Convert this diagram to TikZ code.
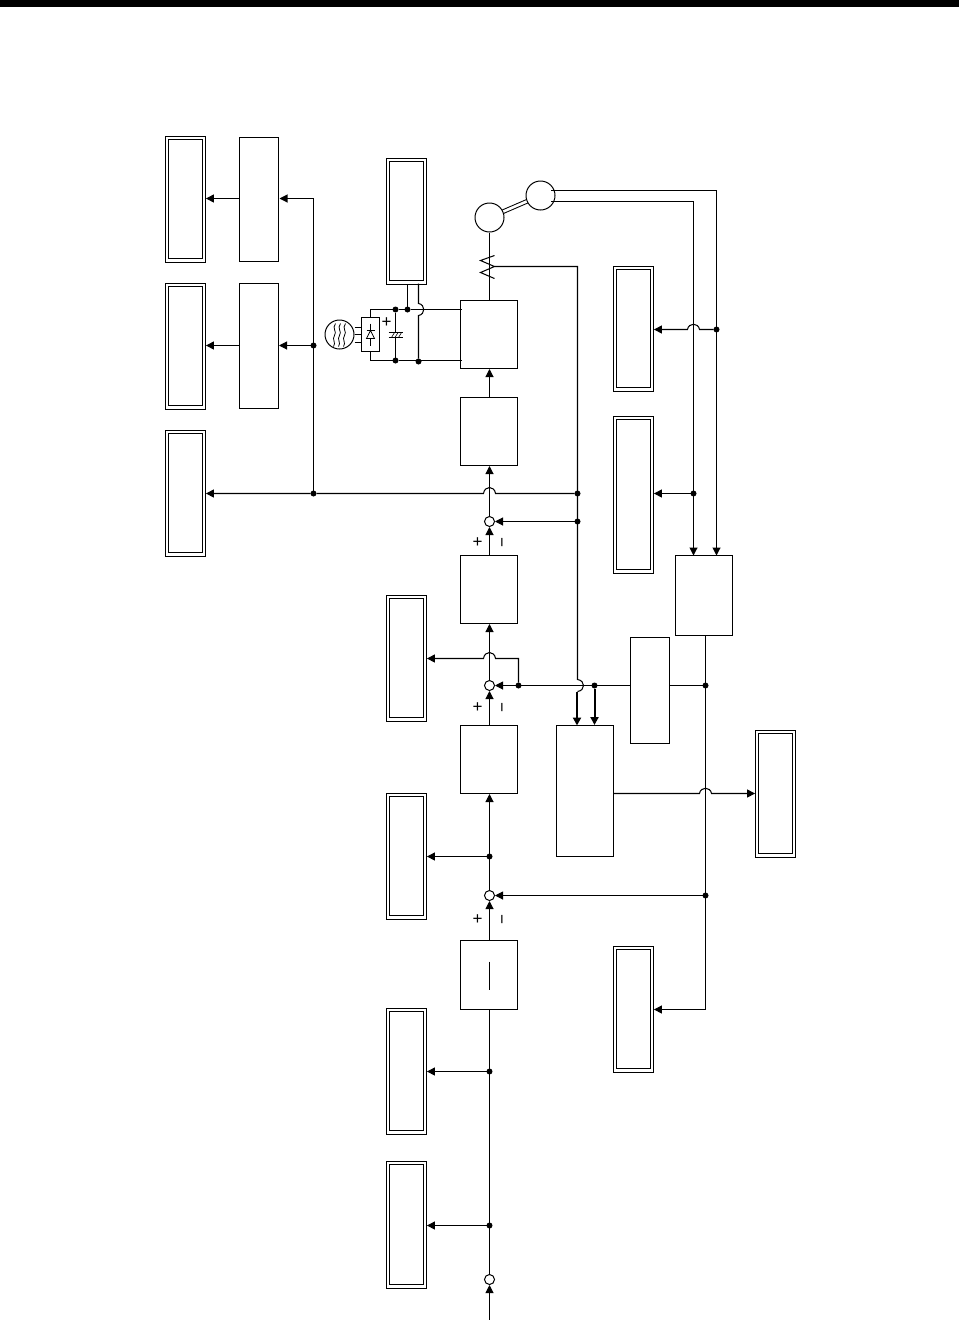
\documentclass[tikz,border=0pt]{standalone}
\usepackage{fontspec}
\setmainfont{Liberation Sans}
\usetikzlibrary{arrows.meta}
\tikzset{
  wire/.style={line width=1.05pt,line join=miter},
  arr/.style={wire,-{Triangle[length=8pt,width=8pt]}},
  thk/.style={line width=2pt,xshift=-0.5pt,-{Triangle[length=8pt,width=8pt]}},
  sbox/.style={draw,line width=1.05pt,fill=white,inner sep=0pt,outer sep=0.5pt},
  rbox/.style={draw,line width=0.8pt,fill=white,inner sep=0pt,outer sep=0.4pt},
  dbox/.style={draw,line width=1pt,double,double distance=2.2pt,inner sep=0pt,outer sep=2pt},
  dotn/.style={circle,fill=black,draw=none,minimum size=6pt,inner sep=0pt,outer sep=0pt},
  sumc/.style={circle,draw,fill=white,line width=1pt,minimum size=10pt,inner sep=0pt,outer sep=0.5pt},
  bigc/.style={circle,draw,fill=white,line width=1pt,minimum size=29pt,inner sep=0pt,outer sep=0.5pt},
  sgn/.style={inner sep=0pt,font=\fontsize{17}{17}\selectfont}
}
\newcommand{\SB}[5]{\node[sbox,minimum width={#4-#2},minimum height={#5-#3}] (#1) at ({(#2+#4)/2-1},{(#3+#5)/2}) {};}
\newcommand{\DB}[5]{\node[dbox,minimum width={#4-#2+1-3.2},minimum height={#5-#3+1.5-3.2}] (#1) at ({(#2+#4-1)/2},{(#3+#5-0.5)/2}) {};}
\begin{document}
\begin{tikzpicture}[x=1pt,y=-1pt]
\useasboundingbox (0,0) rectangle (959,1320);
\fill[black] (0,0) rectangle (959,7);
\begin{scope}[shift={(0.5,0.5)}]
% double boxes
\DB{dA}{166}{137}{205}{261}
\DB{dB}{166}{284}{205}{408}
\DB{dC}{166}{431}{205}{555}
\DB{dD}{387}{159}{426}{283}
\DB{dE}{614}{267}{653}{390}
\DB{dF}{614}{417}{653}{572}
\DB{dG}{387}{596}{426}{720}
\DB{dH}{387}{794}{426}{918}
\DB{dI}{387}{1009}{426}{1133}
\DB{dJ}{387}{1162}{426}{1287}
\DB{dK}{614}{947}{653}{1071}
\DB{dL}{756}{731}{795}{856}
% single boxes
\SB{sA}{240}{137}{279}{261}
\SB{sB}{240}{283}{279}{408}
\SB{bA}{461}{300}{518}{368}
\SB{bB}{461}{397}{518}{465}
\SB{bC}{461}{555}{518}{623}
\SB{bD}{461}{725}{518}{793}
\SB{bE}{461}{940}{518}{1009}
\SB{bF}{676}{555}{733}{635}
\SB{bG}{631}{637}{670}{743}
\SB{bH}{557}{725}{614}{856}
% summing points
\node[sumc] (cA) at (489,521) {};
\node[sumc] (cB) at (489,685) {};
\node[sumc] (cC) at (489,895) {};
\node[sumc] (cD) at (489,1279) {};
% junctions
\node[dotn] (jA) at (577,493) {};
\node[dotn] (jB) at (577,521) {};
\node[dotn] (jC) at (313,493) {};
\node[dotn] (jD) at (313,345) {};
\node[dotn] (jE) at (716,329) {};
\node[dotn] (jF) at (693,493) {};
\node[dotn] (jG) at (705,685) {};
\node[dotn] (jH) at (594,685) {};
\node[dotn] (jI) at (518,685) {};
\node[dotn] (jJ) at (705,895) {};
\node[dotn] (jK) at (489,856) {};
\node[dotn] (jL) at (489,1071) {};
\node[dotn] (jM) at (489,1225) {};
\node[dotn] (jN) at (395,309) {};
\node[dotn] (jO) at (407,309) {};
\node[dotn] (jP) at (395,360) {};
\node[dotn] (jQ) at (418,361) {};
% motor and encoder
\draw[line width=1pt,double,double distance=2.6pt] (489,217) -- (540,195);
\node[bigc] (mot) at (489,217) {};
\node[bigc] (enc) at (540,195) {};
% AC source and rectifier
\node[bigc] (ac) at (339,334) {};
\node[rbox,minimum width=18pt,minimum height=34pt] (rect) at (370,334) {};
\coordinate (railT) at (461,309);
\coordinate (railB) at (461,360);
% motor feed and resistor
\coordinate (rA) at (494,255);
\coordinate (rB) at (480,260);
\coordinate (rC) at (494,266);
\coordinate (rD) at (480,272);
\coordinate (rE) at (494,278);
\draw[wire] (mot |- bA.north) -- (mot.south);
\draw[wire] (rA) -- (rB) -- (rC) -- (rD) -- (rE);
\draw[wire] (rC) -- (577,266) -- (577,679) .. controls (585,680) and (585,690) .. (577,691);
\draw[thk] (577,691) -- (577,725);
\draw[thk] (jH) -- (jH |- bH.north);
% encoder lines
\draw[arr] (enc.north east |- 0,190) -- (716,190) -- (716,555);
\draw[arr] (enc.south east |- 0,201) -- (693,201) -- (693,555);
\draw[arr] (jE) -- (699,329) .. controls (698,322) and (688,322) .. (687,329) -- (jE -| dE.east);
\draw[arr] (jF) -- (jF -| dF.east);
% line at y=493
\draw[arr] (jA) -- (495,493) .. controls (494,485) and (484,485) .. (483,493) -- (jC) -- (jC -| dC.east);
\draw[wire] (jC) -- (313,198);
\draw[arr] (313,198) -- (279,198);
\draw[arr] (jD) -- (jD -| sB.east);
\draw[arr] (sA.west |- 0,198) -- (dA.east |- 0,198);
\draw[arr] (sB.west |- jD) -- (dB.east |- jD);
% forward path
\draw[arr] (jB) -- (cA.east);
\draw[arr] (cA |- bC.north) -- (cA.south);
\draw[arr] (cA.north) -- (cA |- bB.south);
\draw[arr] (cA |- bB.north) -- (cA |- bA.south);
\draw[arr] (cB |- bD.north) -- (cB.south);
\draw[arr] (cB.north) -- (cB |- bC.south);
\draw[arr] (cC |- bE.north) -- (cC.south);
\draw[arr] (cC.north) -- (cC |- bD.south);
\draw[wire] (cD.north) -- (cD |- bE.south);
\draw[arr] (489,1320) -- (cD.south);
\draw[arr] (jK) -- (jK -| dH.east);
\draw[arr] (jL) -- (jL -| dI.east);
\draw[arr] (jM) -- (jM -| dJ.east);
% feedback
\draw[wire] (jG |- bF.south) -- (705,1009);
\draw[arr] (705,1009) -- (dK.east |- 0,1009);
\draw[arr] (jJ) -- (cC.east);
\draw[wire] (jG) -- (jG -| bG.east);
\draw[arr] (jG -| bG.west) -- (cB.east);
\draw[arr] (jI) -- (518,658) -- (495,658) .. controls (494,650) and (484,650) .. (483,658) -- (dG.east |- 0,658);
\draw[arr] (bH.east |- 0,793) -- (699,793) .. controls (700,786) and (710,786) .. (711,793) -- (dL.west |- 0,793);
% rectifier wiring
\draw[wire] (rect.north) -- (370,309) -- (jN) -- (jO) -- (railT);
\draw[wire] (rect.south) -- (370,360) -- (jP) -- (railB);
\draw[wire] (jN) -- (395,332);
\draw[wire] (395,337) -- (jP);
\draw[wire] (388,332) -- (402,332);
\draw[wire] (388,337) -- (402,337);
\draw[line width=0.6pt] (391,337) -- (394,332) (394.5,337) -- (397.5,332) (398,337) -- (401,332);
\draw[wire] (jO) -- (jO |- dD.south);
\draw[wire] (jQ) -- (418,315) .. controls (425,314) and (425,304) .. (418,303) -- (418,283);
\draw[wire] (ac.east |- 0,327) -- (rect.west |- 0,327);
\draw[wire] (ac.east) -- (rect.west);
\draw[wire] (ac.east |- 0,342) -- (rect.west |- 0,342);
\draw[line width=0.8pt] (370,323) -- (370,345);
\draw[line width=0.8pt] (366,330) -- (374,330);
\draw[line width=0.8pt,fill=white] (370,330) -- (366,338) -- (374,338) -- cycle;
\foreach \wx in {334,339,344}{
  \draw[line width=0.8pt] (\wx+1,323) .. controls (\wx-3,328) and (\wx+3,331) .. (\wx,335) .. controls (\wx-3,339) and (\wx+2,342) .. (\wx-1,346);
}
% inner line in the lowest box
\draw[wire] (cC |- 0,961) -- (cC |- 0,989);
% signs
\node[sgn] (pA) at (477,542) {+};
\node[sgn,rotate=90] (mA) at (504,542) {−};
\node[sgn] (pB) at (477,707) {+};
\node[sgn,rotate=90] (mB) at (504,707) {−};
\node[sgn] (pC) at (477,919) {+};
\node[sgn,rotate=90] (mC) at (504,919) {−};
\node[sgn] (pD) at (386,322) {+};
\end{scope}
\end{tikzpicture}
\end{document}
